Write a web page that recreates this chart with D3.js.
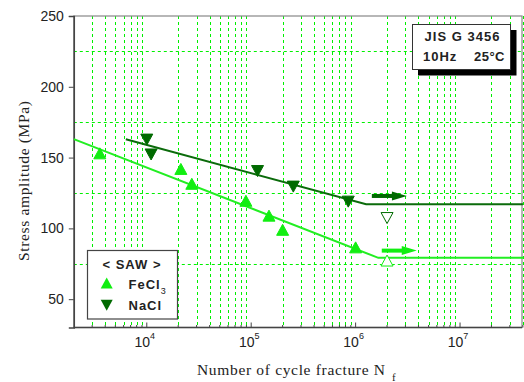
<!DOCTYPE html>
<html>
<head>
<meta charset="utf-8">
<script src="https://cdn.jsdelivr.net/npm/d3@7"></script>
<style>
  body { margin: 0; background: #fff; }
  svg { display: block; }
</style>
</head>
<body>
<svg id="chart" width="524" height="382"></svg>
<script>
// ---- data ----
const yTicks = [50, 100, 150, 200, 250];
const yGrid = [75, 125, 175, 225];
const xDecades = [1e4, 1e5, 1e6, 1e7];
const xExponents = ["4", "5", "6", "7"];

// failed specimens (cycles to fracture, stress amplitude MPa)
const fecl3Cycles = [3.55e3, 2.12e4, 2.7e4, 8.9e4, 1.48e5, 2.0e5, 1.0e6];
const fecl3Stress = [153, 142, 131.5, 119.5, 109, 99, 86.6];
const naclCycles = [1.0e4, 1.1e4, 1.15e5, 2.53e5, 8.5e5];
const naclStress = [162.7, 152.2, 140.5, 129.5, 118.9];

// run-out specimens (not broken at 2x10^6 cycles)
const fecl3RunoutCycles = [2e6];
const fecl3RunoutStress = [77.3];
const naclRunoutCycles = [2e6];
const naclRunoutStress = [107.3];

// S-N curves: inclined part followed by fatigue limit
const fecl3FitCycles = [2e3, 1.65e6, 4e7];
const fecl3FitStress = [163, 79.2, 79.2];
const naclFitCycles = [6.3e3, 1.26e6, 4e7];
const naclFitStress = [163, 117.0, 117.0];

// run-out arrows
const fecl3ArrowCycles = [1.78e6, 3.85e6];
const fecl3ArrowStress = 84.3;
const naclArrowCycles = [1.43e6, 3.1e6];
const naclArrowStress = 122.9;

// ---- styles ----
const LIGHT = "#11ee11";
const DARK = "#006a00";
const GRID = "#00f000";
const AXIS = "#444";
const TEXT = "#222";

const svg = d3.select("#chart");
svg.append("rect").attr("width", 524).attr("height", 382).attr("fill", "#fff");

const x = d3.scaleLog().domain([2e3, 4e7]).range([73.8, 522.9]);
const y = d3.scaleLinear().domain([30, 250]).range([327.5, 16]);
const [x0, x1] = [x.range()[0], 522];
const [yb, yt] = [y.range()[0], y.range()[1]];

// ---- grid ----
const minorX = x.ticks().filter(v => {
  const l = Math.log10(v);
  return Math.abs(l - Math.round(l)) > 1e-6 && v > 2e3 * 1.01;
});
const grid = svg.append("g")
  .attr("stroke", GRID).attr("stroke-width", 1)
  .attr("stroke-dasharray", "3,3").attr("fill", "none");
grid.selectAll("line.v").data(minorX).join("line").attr("class", "v")
  .attr("x1", d => Math.round(x(d)) + 0.5).attr("x2", d => Math.round(x(d)) + 0.5)
  .attr("y1", yt).attr("y2", yb);
grid.selectAll("line.h").data(yGrid).join("line").attr("class", "h")
  .attr("x1", x0).attr("x2", x1)
  .attr("y1", d => Math.round(y(d)) + 0.5).attr("y2", d => Math.round(y(d)) + 0.5);

// ---- frame ----
svg.append("rect")
  .attr("x", x0).attr("y", yt).attr("width", x1 - x0).attr("height", yb - yt)
  .attr("fill", "none").attr("stroke", "#888").attr("stroke-width", 1.2);

// ---- y axis ----
const yAxis = d3.axisLeft(y).tickValues(yTicks).tickSize(5).tickPadding(5);
const gy = svg.append("g").attr("transform", `translate(${x0},0)`).call(yAxis);
gy.select(".domain").attr("stroke", AXIS).attr("stroke-width", 1.5);
gy.selectAll(".tick line").attr("stroke", AXIS);
gy.selectAll(".tick text")
  .attr("font-family", "Arial, 'Liberation Sans', sans-serif")
  .attr("font-size", 14).attr("fill", TEXT);

// ---- x axis (ticks point inward) ----
const gx = svg.append("g");
gx.append("line").attr("x1", x0).attr("x2", x1).attr("y1", yb).attr("y2", yb)
  .attr("stroke", AXIS).attr("stroke-width", 1.5);
gx.selectAll("line.minor").data(minorX).join("line").attr("class", "minor")
  .attr("x1", d => x(d)).attr("x2", d => x(d))
  .attr("y1", yb).attr("y2", yb - 2.5).attr("stroke", AXIS);
gx.selectAll("line.major").data(xDecades).join("line").attr("class", "major")
  .attr("x1", d => x(d)).attr("x2", d => x(d))
  .attr("y1", yb).attr("y2", yb - 5).attr("stroke", AXIS);
const xl = gx.selectAll("text.lab").data(xDecades).join("text").attr("class", "lab")
  .attr("x", d => x(d) - 2).attr("y", 347)
  .attr("text-anchor", "middle")
  .attr("font-family", "Arial, 'Liberation Sans', sans-serif")
  .attr("fill", TEXT);
xl.append("tspan").attr("font-size", 14).text("10");
xl.append("tspan").attr("font-size", 9).attr("dy", -8).text((d, i) => xExponents[i]);

// ---- axis titles ----
svg.append("text")
  .attr("transform", "translate(29,181) rotate(-90)")
  .attr("text-anchor", "middle")
  .attr("font-family", "'Times New Roman', 'Liberation Serif', serif")
  .attr("font-size", 15.5).attr("fill", TEXT)
  .attr("textLength", 160).attr("lengthAdjust", "spacing")
  .text("Stress amplitude (MPa)");
svg.append("text")
  .attr("x", 197).attr("y", 375)
  .attr("font-family", "'Times New Roman', 'Liberation Serif', serif")
  .attr("font-size", 15.5).attr("fill", TEXT)
  .attr("textLength", 188).attr("lengthAdjust", "spacing")
  .text("Number of cycle fracture N");
svg.append("text")
  .attr("x", 392).attr("y", 381)
  .attr("font-family", "'Times New Roman', 'Liberation Serif', serif")
  .attr("font-size", 11).attr("fill", TEXT)
  .text("f");

// ---- S-N curves ----
const line = d3.line().x(d => x(d[0])).y(d => y(d[1]));
svg.append("path")
  .attr("d", line(d3.zip(fecl3FitCycles, fecl3FitStress)))
  .attr("fill", "none").attr("stroke", "#22ee22").attr("stroke-width", 2);
svg.append("path")
  .attr("d", line(d3.zip(naclFitCycles, naclFitStress)))
  .attr("fill", "none").attr("stroke", "#0b6b0b").attr("stroke-width", 2);

// ---- markers ----
const tri = (up) => up ? "M0,-5.5L6,5.5L-6,5.5Z" : "M0,5.5L6,-5.5L-6,-5.5Z";
function points(cyc, st, up, fill, stroke) {
  svg.append("g").selectAll("path").data(d3.zip(cyc, st)).join("path")
    .attr("transform", d => `translate(${x(d[0])},${y(d[1])})`)
    .attr("d", tri(up))
    .attr("fill", fill).attr("stroke", stroke).attr("stroke-width", 1);
}
points(fecl3Cycles, fecl3Stress, true, LIGHT, LIGHT);
points(naclCycles, naclStress, false, DARK, DARK);
points(fecl3RunoutCycles, fecl3RunoutStress, true, "#fff", LIGHT);
points(naclRunoutCycles, naclRunoutStress, false, "#fff", DARK);

// ---- run-out arrows ----
function arrow(cyc, st, color) {
  const xa = x(cyc[0]), xb = x(cyc[1]), ya = y(st);
  const head = 15;
  svg.append("line").attr("x1", xa).attr("x2", xb - head + 2)
    .attr("y1", ya).attr("y2", ya)
    .attr("stroke", color).attr("stroke-width", 4);
  svg.append("path")
    .attr("d", `M${xb},${ya}L${xb - head},${ya - 4.5}L${xb - head},${ya + 4.5}Z`)
    .attr("fill", color);
}
arrow(fecl3ArrowCycles, fecl3ArrowStress, LIGHT);
arrow(naclArrowCycles, naclArrowStress, DARK);

// ---- test condition box ----
const bold = "Arial, 'Liberation Sans', sans-serif";
const cb = svg.append("g");
cb.append("rect").attr("x", 418).attr("y", 30).attr("width", 98.5).attr("height", 45.5).attr("fill", "#000");
cb.append("rect").attr("x", 412.5).attr("y", 24.5).attr("width", 98).attr("height", 45)
  .attr("fill", "#fff").attr("stroke", "#333").attr("stroke-width", 1);
cb.append("text").attr("x", 462.5).attr("y", 40.5).attr("text-anchor", "middle")
  .attr("font-family", bold).attr("font-weight", "bold").attr("font-size", 13)
  .attr("letter-spacing", 1).attr("fill", TEXT).text("JIS G 3456");
cb.append("text").attr("x", 423).attr("y", 60.5)
  .attr("font-family", bold).attr("font-weight", "bold").attr("font-size", 13)
  .attr("letter-spacing", 1).attr("fill", TEXT).text("10Hz");
cb.append("text").attr("x", 505).attr("y", 60.5).attr("text-anchor", "end")
  .attr("font-family", bold).attr("font-weight", "bold").attr("font-size", 13)
  .attr("letter-spacing", 0.5).attr("fill", TEXT).text("25°C");

// ---- legend ----
const lg = svg.append("g");
lg.append("rect").attr("x", 87.5).attr("y", 250.5).attr("width", 90).attr("height", 68.5)
  .attr("fill", "#fff").attr("stroke", "#444").attr("stroke-width", 1.2);
lg.append("text").attr("x", 132).attr("y", 268.5).attr("text-anchor", "middle")
  .attr("font-family", bold).attr("font-weight", "bold").attr("font-size", 13)
  .attr("letter-spacing", 1).attr("fill", TEXT).text("< SAW >");
lg.append("path").attr("transform", "translate(106.7,283)").attr("d", tri(true)).attr("fill", LIGHT);
lg.append("path").attr("transform", "translate(106.7,305.3)").attr("d", tri(false)).attr("fill", DARK);
const fe = lg.append("text").attr("x", 128.5).attr("y", 288.5)
  .attr("font-family", bold).attr("font-weight", "bold").attr("font-size", 13)
  .attr("letter-spacing", 1).attr("fill", TEXT);
fe.append("tspan").text("FeCl");
fe.append("tspan").attr("font-size", 9).attr("dy", 5).attr("font-weight", "normal").text("3");
lg.append("text").attr("x", 128.5).attr("y", 310.3)
  .attr("font-family", bold).attr("font-weight", "bold").attr("font-size", 13)
  .attr("letter-spacing", 1).attr("fill", TEXT).text("NaCl");
</script>
</body>
</html>
